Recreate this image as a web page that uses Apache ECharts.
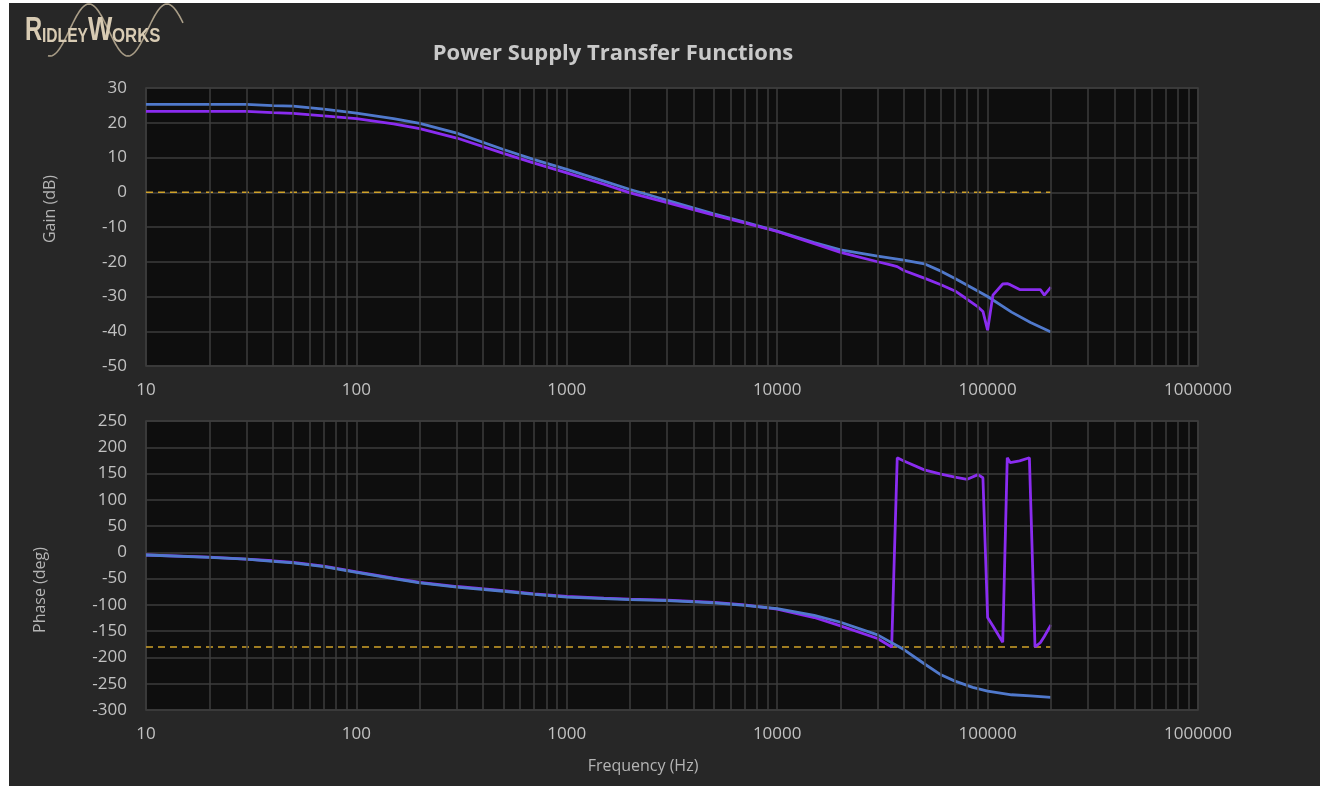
<!DOCTYPE html>
<html><head><meta charset="utf-8">
<script src="https://cdn.jsdelivr.net/npm/echarts@6/dist/echarts.min.js"></script>
<style>
html,body{margin:0;padding:0;background:#ffffff;width:1320px;height:786px;overflow:hidden}
#c{position:absolute;left:9px;top:3px;width:1311px;height:783px;background:#272727}
</style></head><body><div id="c"></div>
<script>
// ---- data ----
const freqBlue = [10, 20, 30, 40, 50, 70, 100, 150, 200, 300, 500, 700, 1000, 1500, 2000, 3000, 5000, 7000, 10000, 15000, 20000, 30000, 40000, 50000, 60000, 70000, 85000, 100000, 130000, 160000, 200000];
const gainBlue = [25.3, 25.3, 25.3, 24.9, 24.8, 23.9, 22.8, 21.2, 19.8, 17.0, 12.3, 9.4, 6.6, 3.2, 0.8, -2.3, -6.2, -8.6, -11.2, -14.5, -16.6, -18.4, -19.5, -20.6, -22.7, -24.8, -27.6, -30.0, -34.5, -37.5, -40.2];
const phaseBlue = [-5, -9.7, -13, -17, -20, -27, -38, -50, -58, -66, -74, -80, -85, -88, -90, -92, -96, -101, -107, -120, -133, -157, -185, -212, -233, -245, -257, -264, -271, -273, -276];

const freqPurple = [10, 20, 30, 40, 50, 70, 100, 150, 200, 300, 500, 700, 1000, 1500, 2000, 3000, 5000, 7000, 10000, 15000, 20000, 30000, 35000, 35600, 37200, 40000, 50000, 60000, 70000, 80000, 90000, 95000, 100000, 106000, 118000, 124000, 128000, 142000, 158000, 168000, 178000, 186000, 200000];
const gainPurple = [23.3, 23.3, 23.3, 22.9, 22.7, 22.0, 21.2, 19.7, 18.3, 15.6, 11.2, 8.4, 5.6, 2.3, -0.2, -3.0, -6.6, -8.8, -11.3, -14.8, -17.3, -20.0, -21.0, -21.1, -21.4, -22.5, -24.7, -26.6, -28.4, -30.8, -33.0, -34.3, -39.7, -29.6, -26.4, -26.3, -26.6, -28.0, -28.0, -28.0, -28.0, -29.6, -27.3];
const phasePurple = [-5, -9, -13, -16, -19, -26, -37, -49, -57, -65, -73, -79, -84, -87, -89, -91, -95, -100, -108, -124, -140, -164, -180, -181, 180, 174, 157, 149, 143, 139, 148, 142, -124, -140, -171, 180, 171, 174, 180, -180, -172, -160, -138];

const refFreq = [10, 200000];
const gainRef = [0, 0];
const phaseRef = [-180, -180];

const xMin = 10, xMax = 1000000;
const gainMin = -50, gainMax = 30, gainStep = 10;
const phaseMin = -300, phaseMax = 250, phaseStep = 50;

// minor (2..9 x decade) grid positions
const minorFreqs = [];
for (let d = 10; d < xMax; d *= 10) for (let m = 2; m <= 9; m++) minorFreqs.push(d * m);

const pairs = (xs, ys) => xs.map((x, i) => [x, ys[i]]);

// ---- styling ----
const BLUE = '#5079cc', PURPLE = '#8a2cf0', REF = '#d0a22a';
const GRIDC = '#3d3d3d', LABELC = '#c2c2c2';
const FONT = '"Open Sans", "Noto Sans", sans-serif';

const chart = echarts.init(document.getElementById('c'), null, {renderer: 'canvas'});

function xAxisCfg(gi) {
  return {
    type: 'log', logBase: 10, gridIndex: gi, min: xMin, max: xMax,
    axisLine: {show: false}, axisTick: {show: false},
    axisLabel: {color: LABELC, fontSize: 17, fontFamily: FONT, margin: 16,
      formatter: v => String(Math.round(v))},
    splitLine: {show: true, lineStyle: {color: GRIDC, width: 1.5}}
  };
}
function yAxisCfg(gi, mn, mx, st) {
  return {
    type: 'value', gridIndex: gi, min: mn, max: mx, interval: st,
    axisLine: {show: false}, axisTick: {show: false},
    axisLabel: {color: LABELC, fontSize: 17, fontFamily: FONT, margin: 19},
    splitLine: {show: true, lineStyle: {color: GRIDC, width: 1.5}}
  };
}
function lineSeries(gi, data, color, z) {
  return {type: 'line', xAxisIndex: gi, yAxisIndex: gi, data: data, showSymbol: false, symbol: 'none',
    lineStyle: {color: color, width: 2.8}, z: z, animation: false};
}
function refSeries(gi, data) {
  return {type: 'line', xAxisIndex: gi, yAxisIndex: gi, data: data, showSymbol: false, symbol: 'none',
    lineStyle: {color: REF, width: 1.6, type: [7, 5]}, z: 2, animation: false};
}
function minorSeries(gi) {
  return {type: 'scatter', xAxisIndex: gi, yAxisIndex: gi, data: [], z: 1, silent: true,
    markLine: {silent: true, symbol: ['none', 'none'], label: {show: false}, animation: false,
      lineStyle: {color: GRIDC, width: 1.5, type: 'solid'},
      data: minorFreqs.map(f => ({xAxis: f}))}};
}

const logoGraphic = [];
// sine wave of logo (decoration)
const wavePts = [];
for (let x = 39; x <= 174; x += 1) {
  wavePts.push([x, 27 + 26 * Math.cos((x - 41) / 39 * Math.PI)]);
}
logoGraphic.push({type: 'polyline', shape: {points: wavePts, smooth: 0}, style: {stroke: '#a99d87', lineWidth: 1.6, fill: null}, z: 10});
const LOGOC = '#d8cbb3';
const big = '700 33px "Liberation Sans", sans-serif';
const small = '700 20px "Liberation Sans", sans-serif';
logoGraphic.push({type: 'text', x: 16, y: 28, scaleX: 0.72, style: {text: 'R', font: big, fill: LOGOC, textAlign: 'left', verticalAlign: 'middle'}, z: 11});
logoGraphic.push({type: 'text', x: 33, y: 33, scaleX: 0.78, style: {text: 'IDLEY', font: small, fill: LOGOC, textAlign: 'left', verticalAlign: 'middle'}, z: 11});
logoGraphic.push({type: 'text', x: 79, y: 28, scaleX: 0.78, style: {text: 'W', font: big, fill: LOGOC, textAlign: 'left', verticalAlign: 'middle'}, z: 11});
logoGraphic.push({type: 'text', x: 103, y: 33, scaleX: 0.84, style: {text: 'ORKS', font: small, fill: LOGOC, textAlign: 'left', verticalAlign: 'middle'}, z: 11});

const textGraphic = [
  {type: 'text', x: 604, y: 51, style: {text: 'Power Supply Transfer Functions', font: '700 22px ' + FONT, fill: '#c9c9c9', textAlign: 'center', verticalAlign: 'middle'}},
  {type: 'text', x: 41, y: 206, rotation: Math.PI / 2, style: {text: 'Gain (dB)', font: '16px ' + FONT, fill: '#b4b4b4', textAlign: 'center', verticalAlign: 'middle'}},
  {type: 'text', x: 31, y: 587, rotation: Math.PI / 2, style: {text: 'Phase (deg)', font: '16px ' + FONT, fill: '#b4b4b4', textAlign: 'center', verticalAlign: 'middle'}},
  {type: 'text', x: 634, y: 763, style: {text: 'Frequency (Hz)', font: '16px ' + FONT, fill: '#b4b4b4', textAlign: 'center', verticalAlign: 'middle'}}
];

chart.setOption({
  animation: false,
  backgroundColor: '#272727',
  grid: [
    {left: 137, right: 122, top: 85, height: 278, show: true, backgroundColor: '#0e0e0e', borderColor: GRIDC, borderWidth: 1.5},
    {left: 137, right: 122, top: 418, height: 289, show: true, backgroundColor: '#0e0e0e', borderColor: GRIDC, borderWidth: 1.5}
  ],
  xAxis: [xAxisCfg(0), xAxisCfg(1)],
  yAxis: [yAxisCfg(0, gainMin, gainMax, gainStep), yAxisCfg(1, phaseMin, phaseMax, phaseStep)],
  series: [
    minorSeries(0), minorSeries(1),
    refSeries(0, pairs(refFreq, gainRef)),
    refSeries(1, pairs(refFreq, phaseRef)),
    lineSeries(0, pairs(freqBlue, gainBlue), BLUE, 3),
    lineSeries(0, pairs(freqPurple, gainPurple), PURPLE, 4),
    lineSeries(1, pairs(freqPurple, phasePurple), PURPLE, 3),
    lineSeries(1, pairs(freqBlue, phaseBlue), BLUE, 4)
  ],
  graphic: logoGraphic.concat(textGraphic)
});
</script></body></html>
